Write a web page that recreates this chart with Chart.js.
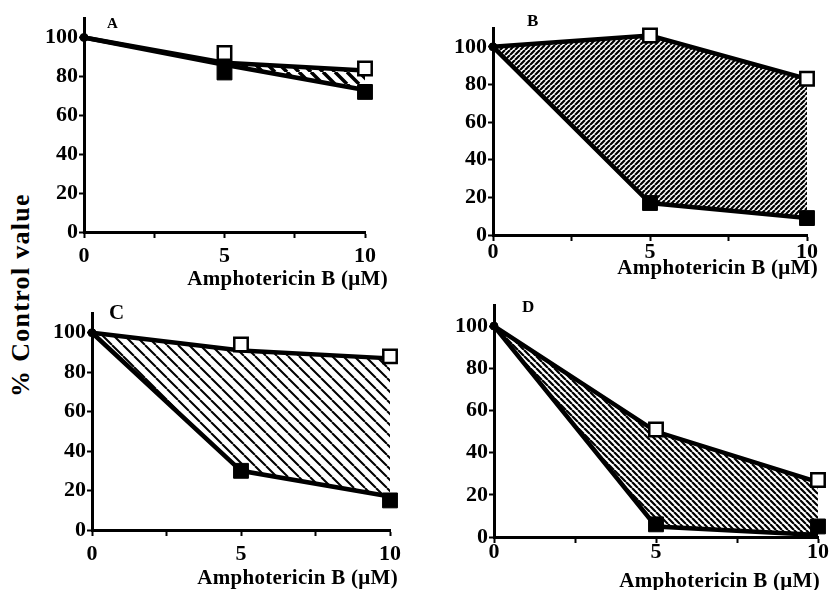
<!DOCTYPE html>
<html>
<head>
<meta charset="utf-8">
<script src="https://cdn.jsdelivr.net/npm/chart.js@4/dist/chart.umd.min.js"></script>
<style>
  body { margin: 0; width: 830px; height: 590px; background: #fff; position: relative; overflow: hidden;
         font-family: 'Liberation Serif', serif; font-weight: bold; color: #000; }
  canvas { position: absolute; }
  .txt { position: absolute; white-space: nowrap; line-height: 1; }
  .xt { font-size: 21px; letter-spacing: 0.3px; }
  #ytitle { left: 21px; top: 295px; font-size: 26px; letter-spacing: 1.3px;
            transform: translate(-50%, -50%) rotate(-90deg); }
</style>
</head>
<body>
<canvas id="cA" width="380" height="290" style="left:35px;top:0px"></canvas>
<canvas id="cB" width="390" height="290" style="left:440px;top:0px"></canvas>
<canvas id="cC" width="380" height="300" style="left:35px;top:290px"></canvas>
<canvas id="cD" width="390" height="300" style="left:440px;top:290px"></canvas>

<div class="txt" id="ytitle">% Control value</div>
<div class="txt xt" style="right:442px;top:268px">Amphotericin B (μM)</div>
<div class="txt xt" style="right:12px;top:257px">Amphotericin B (μM)</div>
<div class="txt xt" style="right:432px;top:567px">Amphotericin B (μM)</div>
<div class="txt xt" style="right:10px;top:570px">Amphotericin B (μM)</div>
<div class="txt" style="left:107px;top:16px;font-size:15px">A</div>
<div class="txt" style="left:527px;top:12px;font-size:17px">B</div>
<div class="txt" style="left:109px;top:302px;font-size:21px">C</div>
<div class="txt" style="left:522px;top:298px;font-size:17px">D</div>

<script>
// amphotericin B doses (uM)
const doses = [0, 5, 10];
const xTicks = [0, 2.5, 5, 7.5, 10];
const xLabelled = [0, 5, 10];
const yTicks = [0, 20, 40, 60, 80, 100];

// panel A
const aOpenMark = [100, 92, 84];
const aShutMark = [100, 82, 72];
const aOpenLine = [100, 87, 83];
const aShutLine = [100, 86, 73];
// panel B
const bOpenMark = [100, 106, 83];
const bShutMark = [100, 17, 9];
const bOpenLine = [100, 106, 83];
const bShutLine = [100, 17, 9];
// panel C
const cOpenMark = [100, 94, 88];
const cShutMark = [100, 30, 15];
const cOpenLine = [100, 91, 87];
const cShutLine = [100, 30, 17];
// panel D
const dOpenMark = [100, 51, 27];
const dShutMark = [100, 6, 5];
const dOpenLine = [100, 50, 26];
const dShutLine = [100, 5, 1];

Chart.defaults.font.family = "'Liberation Serif', serif";
Chart.defaults.font.weight = 'bold';
Chart.defaults.color = '#000';

// plot frame of each panel inside its canvas
const layouts = {
    A: { yW: 49, xH: 58, top: 18, right: 50, xPad: 5 },
    B: { yW: 53, xH: 55, top: 28, right: 23, xPad: -2 },
    C: { yW: 57, xH: 60, top: 23, right: 25, xPad: 5 },
    D: { yW: 54, xH: 53, top: 15, right: 10, xPad: -4 }
};

function hatch(ctx, step, lw, dir) {
    const c = document.createElement('canvas');
    c.width = step; c.height = step;
    const g = c.getContext('2d');
    g.strokeStyle = '#000'; g.lineWidth = lw;
    g.beginPath();
    for (let i = -1; i <= 1; i++) {
        if (dir === 'down') { g.moveTo(i * step, 0); g.lineTo(i * step + step, step); }
        else { g.moveTo(i * step, step); g.lineTo(i * step + step, 0); }
    }
    g.stroke();
    return ctx.createPattern(c, 'repeat');
}

const pts = arr => arr.map((v, i) => ({ x: doses[i], y: v }));

function makePanel(id, key, openLine, shutLine, openMark, shutMark, hatchArgs) {
    const cv = document.getElementById(id);
    const ctx = cv.getContext('2d');
    const L = layouts[key];
    new Chart(ctx, {
        type: 'scatter',
        data: {
            datasets: [
                { data: pts(openLine), showLine: true, borderColor: '#000', borderWidth: 4.5, pointRadius: 0,
                  fill: '+1', backgroundColor: hatch(ctx, ...hatchArgs), order: 2, clip: false },
                { data: pts(shutLine), showLine: true, borderColor: '#000', borderWidth: 4.5, pointRadius: 0,
                  fill: false, order: 2, clip: false },
                { data: pts(openMark), showLine: false, pointStyle: 'rect', pointRadius: [0, 9.5, 9.5],
                  pointBackgroundColor: '#fff', pointBorderColor: '#000', pointBorderWidth: 2.5, order: 1, clip: false },
                { data: pts(shutMark), showLine: false, pointStyle: ['circle', 'rect', 'rect'], pointRadius: [4, 10.5, 10.5],
                  pointBackgroundColor: '#000', pointBorderColor: '#000', pointBorderWidth: 1, order: 0, clip: false }
            ]
        },
        options: {
            responsive: false,
            animation: false,
            layout: { padding: { top: L.top, right: L.right, left: 0, bottom: 0 } },
            plugins: { legend: { display: false }, tooltip: { enabled: false } },
            scales: {
                x: {
                    type: 'linear', min: 0, max: 10,
                    afterFit: s => { s.height = L.xH; },
                    afterBuildTicks: s => { s.ticks = xTicks.map(v => ({ value: v })); },
                    ticks: { callback: v => xLabelled.includes(v) ? String(v) : '', font: { size: 22 },
                             padding: L.xPad, maxRotation: 0, autoSkip: false },
                    grid: { drawOnChartArea: false, drawTicks: true, tickLength: 6, tickColor: '#000', tickWidth: 2 },
                    border: { color: '#000', width: 3 }
                },
                y: {
                    type: 'linear', min: 0, max: 110,
                    afterFit: s => { s.width = L.yW; },
                    afterBuildTicks: s => { s.ticks = yTicks.map(v => ({ value: v })); },
                    ticks: { font: { size: 22 }, padding: 1 },
                    grid: { drawOnChartArea: false, drawTicks: true, tickLength: 5, tickColor: '#000', tickWidth: 2 },
                    border: { color: '#000', width: 3 }
                }
            }
        }
    });
}

makePanel('cA', 'A', aOpenLine, aShutLine, aOpenMark, aShutMark, [12, 3.5, 'down']);
makePanel('cB', 'B', bOpenLine, bShutLine, bOpenMark, bShutMark, [5, 2.2, 'up']);
makePanel('cC', 'C', cOpenLine, cShutLine, cOpenMark, cShutMark, [11, 2, 'down']);
makePanel('cD', 'D', dOpenLine, dShutLine, dOpenMark, dShutMark, [6, 2.2, 'down']);
</script>
</body>
</html>
